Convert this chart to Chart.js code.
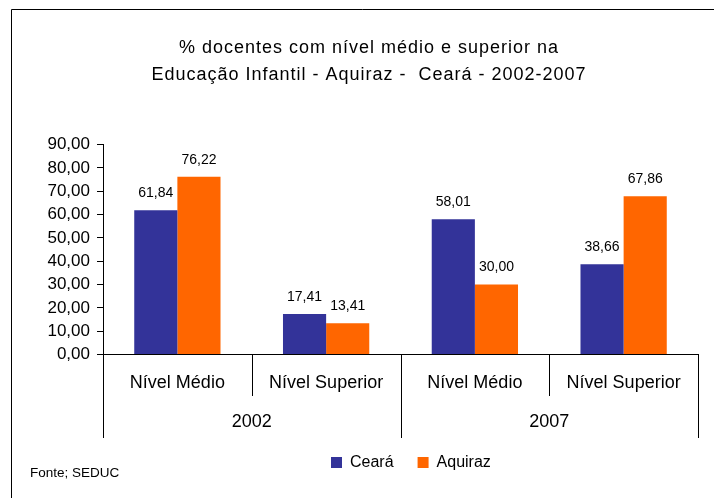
<!DOCTYPE html>
<html>
<head>
<meta charset="utf-8">
<script src="https://cdn.jsdelivr.net/npm/chart.js@4"></script>
<style>
html,body{margin:0;padding:0;background:#fff;}
canvas{display:block;}
</style>
</head>
<body>
<canvas id="c" width="714" height="498"></canvas>
<script>
// ---- data ----
const titleLines = ['% docentes com nível médio e superior na', 'Educação Infantil - Aquiraz -  Ceará - 2002-2007'];
const categories = ['Nível Médio', 'Nível Superior', 'Nível Médio', 'Nível Superior'];
const groups = ['2002', '2007'];
const groupSizes = [2, 2];
const seriesNames = ['Ceará', 'Aquiraz'];
const ceara = [61.84, 17.41, 58.01, 38.66];
const aquiraz = [76.22, 13.41, 30.00, 67.86];
const yMin = 0, yMax = 90, yStep = 10;
const sourceNote = 'Fonte; SEDUC';

const FONT = "'Liberation Sans', Arial, sans-serif";
const fmt = v => v.toFixed(2).replace('.', ',');

Chart.defaults.color = '#000';
Chart.defaults.font.family = FONT;

const extras = {
  id: 'extras',
  afterUpdate(chart) {
    const t = chart.titleBlock;
    if (t) {
      const dx = 369 - (t.left + t.right) / 2;
      t.left += dx; t.right += dx;
      if (!t._ls) {
        const orig = t.draw;
        t.draw = function (a) {
          const ctx = this.ctx; ctx.save(); ctx.letterSpacing = '1px';
          orig.call(this, a); ctx.restore();
        };
        t._ls = true;
      }
    }
    const lg = chart.legend;
    if (lg && lg.legendHitBoxes && lg.legendHitBoxes.length) {
      const dx = 331 - lg.legendHitBoxes[0].left;
      lg.left += dx; lg.right += dx;
      lg.legendHitBoxes.forEach(h => h.left += dx);
    }
  },
  beforeDraw(chart) {
    const ctx = chart.ctx;
    ctx.save();
    ctx.strokeStyle = '#000'; ctx.lineWidth = 1;
    ctx.beginPath();
    ctx.moveTo(11.5, 498); ctx.lineTo(11.5, 9.5); ctx.lineTo(714, 9.5);
    ctx.stroke();
    ctx.restore();
  },
  afterDatasetsDraw(chart) {
    const ctx = chart.ctx;
    ctx.save();
    ctx.font = '14px ' + FONT;
    ctx.fillStyle = '#000';
    ctx.textAlign = 'center'; ctx.textBaseline = 'middle';
    chart.data.datasets.forEach((ds, di) => {
      chart.getDatasetMeta(di).data.forEach((bar, i) => {
        ctx.fillText(fmt(ds.data[i]), bar.x, bar.y - 17);
      });
    });
    ctx.restore();
  },
  afterDraw(chart) {
    const ctx = chart.ctx;
    const xs = chart.scales.x;
    const area = chart.chartArea;
    const n = categories.length;
    const cw = xs.width / n;
    ctx.save();
    ctx.strokeStyle = '#000'; ctx.lineWidth = 1;
    const groupEdges = new Set([0]);
    let acc = 0;
    groupSizes.forEach(s => { acc += s; groupEdges.add(acc); });
    for (let i = 0; i <= n; i++) {
      const x = Math.round(xs.left + i * cw) + 0.5;
      const end = groupEdges.has(i) ? 438 : 396;
      ctx.beginPath();
      ctx.moveTo(x, area.bottom);
      ctx.lineTo(x, end);
      ctx.stroke();
    }
    ctx.font = '18px ' + FONT;
    ctx.fillStyle = '#000';
    ctx.textAlign = 'center'; ctx.textBaseline = 'middle';
    let start = 0;
    groups.forEach((g, gi) => {
      const cx = xs.left + (start + groupSizes[gi] / 2) * cw;
      ctx.fillText(g, cx, 422);
      start += groupSizes[gi];
    });
    ctx.font = '13.5px ' + FONT;
    ctx.textAlign = 'left';
    ctx.fillText(sourceNote, 30, 473);
    ctx.restore();
  }
};

new Chart(document.getElementById('c'), {
  type: 'bar',
  data: {
    labels: categories,
    datasets: [
      { label: seriesNames[0], data: ceara, backgroundColor: '#333399', borderWidth: 0 },
      { label: seriesNames[1], data: aquiraz, backgroundColor: '#FF6600', borderWidth: 0 }
    ]
  },
  options: {
    responsive: false,
    animation: false,
    devicePixelRatio: 1,
    layout: { padding: { left: 0, right: 16, top: 0, bottom: 17.5 } },
    datasets: { bar: { categoryPercentage: 0.58, barPercentage: 1.0 } },
    plugins: {
      title: {
        display: true,
        text: titleLines,
        color: '#000',
        font: { family: FONT, size: 18, weight: 'normal', lineHeight: '27px' },
        padding: { top: 34.5, bottom: 56 }
      },
      legend: {
        display: true,
        position: 'bottom',
        labels: {
          color: '#000',
          font: { family: FONT, size: 16 },
          boxWidth: 11, boxHeight: 11,
          padding: 24
        }
      },
      tooltip: { enabled: false }
    },
    scales: {
      x: {
        grid: { display: false, drawTicks: false },
        border: { display: true, color: '#000', width: 1 },
        ticks: { font: { family: FONT, size: 18 }, color: '#000', padding: 17.5, maxRotation: 0, autoSkip: false },
        afterFit(s) { s.height = 76; }
      },
      y: {
        min: yMin, max: yMax,
        grid: { display: true, drawOnChartArea: false, drawTicks: true, tickLength: 6, color: '#000' },
        border: { display: true, color: '#000', width: 1 },
        ticks: { stepSize: yStep, autoSkip: false, font: { family: FONT, size: 17 }, color: '#000', padding: 7, callback: v => fmt(v) },
        afterFit(s) { s.width = 103; }
      }
    }
  },
  plugins: [extras]
});
</script>
</body>
</html>
